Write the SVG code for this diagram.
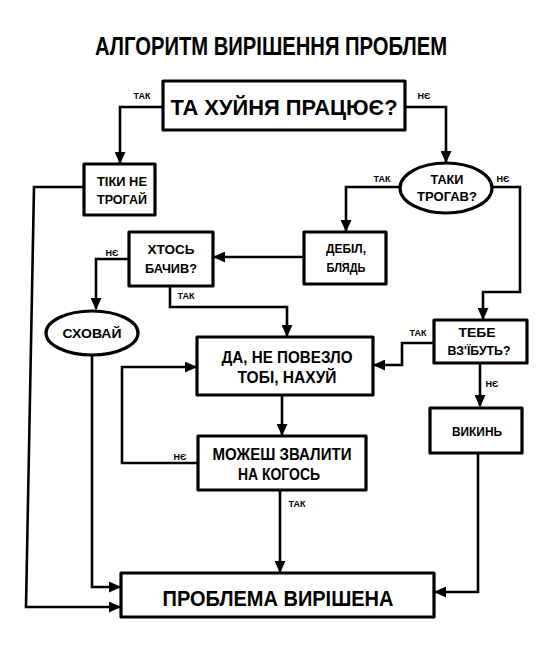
<svg xmlns="http://www.w3.org/2000/svg" width="549" height="653" viewBox="0 0 549 653">
<style>
.bg{fill:#fff}
.box{fill:#fff;stroke:#000;stroke-width:3.2;stroke-linejoin:round}
.edge{fill:none;stroke:#000;stroke-width:2.6;stroke-linejoin:miter}
text{font-family:"Liberation Sans","DejaVu Sans",sans-serif;font-weight:bold;fill:#000;text-anchor:middle}
.t{font-size:13px}
.m{font-size:16px}
.big{font-size:22px}
.lbl{font-size:9px}
</style>
<defs>
<marker id="ah" markerUnits="userSpaceOnUse" markerWidth="12" markerHeight="11" refX="11" refY="5.5" orient="auto">
<path d="M0,0 L12,5.5 L0,11 z" fill="#000"/>
</marker>
</defs>
<rect class="bg" x="0" y="0" width="549" height="653"/>
<text id="title" x="271" y="55" font-size="25" textLength="352" lengthAdjust="spacingAndGlyphs">АЛГОРИТМ ВИРІШЕННЯ ПРОБЛЕМ</text>

<g id="connectors">
<path class="edge" d="M163,107 H120 V163" marker-end="url(#ah)"/>
<path class="edge" d="M405,107 H446 V162" marker-end="url(#ah)"/>
<path class="edge" d="M400,187 H346 V231" marker-end="url(#ah)"/>
<path class="edge" d="M492,187 H520 V292 H483 V319" marker-end="url(#ah)"/>
<path class="edge" d="M303,257 H214" marker-end="url(#ah)"/>
<path class="edge" d="M129,259 H96 V309" marker-end="url(#ah)"/>
<path class="edge" d="M170,286 V307 H287 V336" marker-end="url(#ah)"/>
<path class="edge" d="M434,343 H402 V365 H374" marker-end="url(#ah)"/>
<path class="edge" d="M480,363 V406" marker-end="url(#ah)"/>
<path class="edge" d="M282,395 V435" marker-end="url(#ah)"/>
<path class="edge" d="M197,463 H122 V367 H196" marker-end="url(#ah)"/>
<path class="edge" d="M280,490 V572" marker-end="url(#ah)"/>
<path class="edge" d="M478,453 V592 H435" marker-end="url(#ah)"/>
<path class="edge" d="M92,355 V587 H120" marker-end="url(#ah)"/>
<path class="edge" d="M84,187 H34 L26,607 H120" marker-end="url(#ah)"/>
<text class="lbl" x="142" y="99">ТАК</text>
<text class="lbl" x="424" y="99">НЄ</text>
<text class="lbl" x="382" y="182">ТАК</text>
<text class="lbl" x="503" y="182">НЄ</text>
<text class="lbl" x="112" y="256">НЄ</text>
<text class="lbl" x="186" y="299">ТАК</text>
<text class="lbl" x="418" y="336">ТАК</text>
<text class="lbl" x="492" y="387">НЄ</text>
<text class="lbl" x="180" y="460">НЄ</text>
<text class="lbl" x="297" y="507">ТАК</text>
</g>

<g id="n-works">
<rect class="box" x="163" y="81" width="242" height="49"/>
<text class="big" x="284" y="115" textLength="227" lengthAdjust="spacingAndGlyphs">ТА ХУЙНЯ ПРАЦЮЄ?</text>
</g>
<g id="n-dont-touch">
<rect class="box" x="84" y="164" width="71" height="51"/>
<text class="t" x="122" y="186" textLength="50" lengthAdjust="spacingAndGlyphs">ТІКИ НЕ</text>
<text class="t" x="122" y="204" textLength="50" lengthAdjust="spacingAndGlyphs">ТРОГАЙ</text>
</g>
<g id="n-touched">
<ellipse class="box" cx="446" cy="188" rx="46" ry="25"/>
<text class="t" x="447" y="184" textLength="33" lengthAdjust="spacingAndGlyphs">ТАКИ</text>
<text class="t" x="447" y="201" textLength="60" lengthAdjust="spacingAndGlyphs">ТРОГАВ?</text>
</g>
<g id="n-idiot">
<rect class="box" x="304" y="232" width="82" height="52"/>
<text class="t" x="346" y="253" textLength="40" lengthAdjust="spacingAndGlyphs">ДЕБІЛ,</text>
<text class="t" x="346" y="272" textLength="39" lengthAdjust="spacingAndGlyphs">БЛЯДЬ</text>
</g>
<g id="n-seen">
<rect class="box" x="129" y="232" width="84" height="54"/>
<text class="t" x="171" y="254" textLength="47" lengthAdjust="spacingAndGlyphs">ХТОСЬ</text>
<text class="t" x="171" y="273" textLength="52" lengthAdjust="spacingAndGlyphs">БАЧИВ?</text>
</g>
<g id="n-hide">
<ellipse class="box" cx="92" cy="333" rx="46" ry="22"/>
<text class="t" x="92" y="338" textLength="59" lengthAdjust="spacingAndGlyphs">СХОВАЙ</text>
</g>
<g id="n-screwed">
<rect class="box" x="434" y="320" width="93" height="43"/>
<text class="t" x="477" y="337" textLength="37" lengthAdjust="spacingAndGlyphs">ТЕБЕ</text>
<text class="t" x="479" y="355" textLength="63" lengthAdjust="spacingAndGlyphs">ВЗ'ЇБУТЬ?</text>
</g>
<g id="n-throw">
<rect class="box" x="430" y="408" width="92" height="45"/>
<text class="t" x="477" y="436" textLength="50" lengthAdjust="spacingAndGlyphs">ВИКИНЬ</text>
</g>
<g id="n-unlucky">
<rect class="box" x="197" y="337" width="176" height="58"/>
<text class="m" x="287" y="363" textLength="131" lengthAdjust="spacingAndGlyphs">ДА, НЕ ПОВЕЗЛО</text>
<text class="m" x="287" y="383" textLength="99" lengthAdjust="spacingAndGlyphs">ТОБІ, НАХУЙ</text>
</g>
<g id="n-blame">
<rect class="box" x="198" y="436" width="168" height="54"/>
<text class="m" x="282" y="460" textLength="139" lengthAdjust="spacingAndGlyphs">МОЖЕШ ЗВАЛИТИ</text>
<text class="m" x="279" y="480" textLength="82" lengthAdjust="spacingAndGlyphs">НА КОГОСЬ</text>
</g>
<g id="n-solved">
<rect class="box" x="121" y="573" width="313" height="44"/>
<text class="big" x="278" y="606" textLength="231" lengthAdjust="spacingAndGlyphs">ПРОБЛЕМА ВИРІШЕНА</text>
</g>
</svg>
